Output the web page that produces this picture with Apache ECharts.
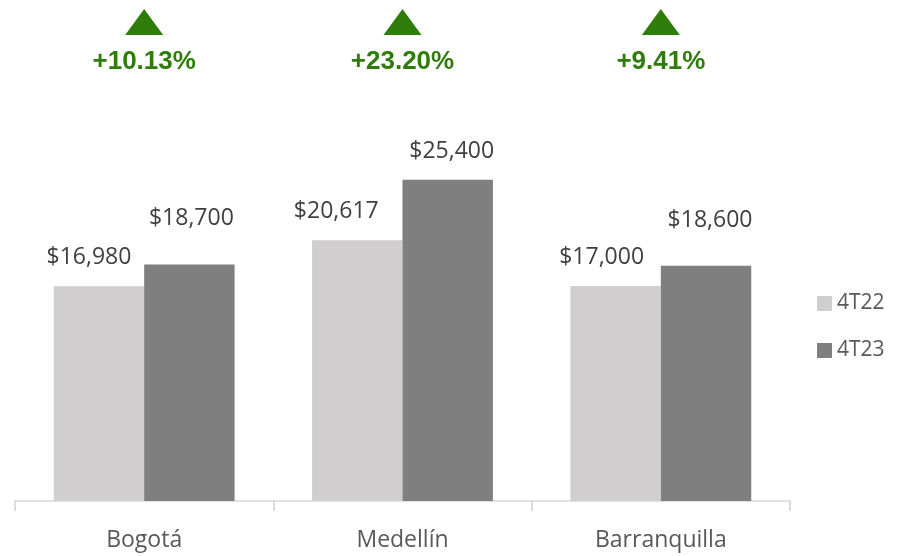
<!DOCTYPE html>
<html>
<head>
<meta charset="utf-8">
<script src="https://cdn.jsdelivr.net/npm/echarts@6/dist/echarts.min.js"></script>
<style>
  html, body { margin: 0; padding: 0; background: #fff; }
  #chart { width: 897px; height: 556px; }
</style>
</head>
<body>
<div id="chart"></div>
<script>
const cities = ['Bogotá', 'Medellín', 'Barranquilla'];
const values4T22 = [16980, 20617, 17000];
const values4T23 = [18700, 25400, 18600];
const seriesNames = ['4T22', '4T23'];

// percentage change between quarters
const changes = values4T22.map((v, i) => (values4T23[i] / v - 1) * 100);

const chart = echarts.init(document.getElementById('chart'));

const labelStyle = {
    show: true,
    position: 'top',
    distance: 17,
    color: '#404040',
    fontFamily: '"Open Sans"',
    fontSize: 23,
    formatter: p => '$' + p.value.toLocaleString('en-US')
};

// labels were nudged by hand in the original so they don't collide
const shift22 = [-10, -21, -14];
const shift23 = [[2, -17], [4, 0], [4, -17]];

chart.setOption({
    animation: false,
    grid: { left: 15, right: 107, top: 0, bottom: 55 },
    legend: {
        orient: 'vertical',
        left: 812,
        top: 288,
        itemWidth: 15,
        itemHeight: 15,
        itemGap: 26,
        icon: 'rect',
        textStyle: { color: '#595959', fontFamily: '"Open Sans"', fontSize: 21 },
        data: seriesNames
    },
    xAxis: {
        type: 'category',
        data: cities,
        axisLine: { lineStyle: { color: '#D9D9D9', width: 1.5 } },
        axisTick: { show: true, length: 10, lineStyle: { color: '#CFCFCF', width: 1.5 } },
        axisLabel: { color: '#595959', fontFamily: '"Open Sans"', fontSize: 23, margin: 28 }
    },
    yAxis: [
        { type: 'value', min: 0, max: 39600, show: false },
        { type: 'value', min: 0, max: 1, show: false }
    ],
    series: [
        {
            name: seriesNames[0],
            type: 'bar',
            data: values4T22,
            barWidth: '35%',
            barGap: '0%',
            itemStyle: { color: '#D0CECE' },
            label: labelStyle,
            labelLayout: p => ({ dx: shift22[p.dataIndex] })
        },
        {
            name: seriesNames[1],
            type: 'bar',
            data: values4T23,
            barWidth: '35%',
            itemStyle: { color: '#7F7F7F' },
            label: labelStyle,
            labelLayout: p => ({ dx: shift23[p.dataIndex][0], dy: shift23[p.dataIndex][1] })
        },
        {
            type: 'scatter',
            yAxisIndex: 1,
            clip: false,
            silent: true,
            symbol: 'triangle',
            symbolSize: [38, 26],
            itemStyle: { color: '#2E7D0A', opacity: 1 },
            data: changes.map(() => 0.956),
            label: {
                show: true,
                position: 'bottom',
                distance: 14,
                color: '#2E7D0A',
                fontFamily: '"Liberation Sans"',
                fontWeight: 'bold',
                fontSize: 26,
                formatter: p => '+' + changes[p.dataIndex].toFixed(2) + '%'
            }
        }
    ]
});
</script>
</body>
</html>
